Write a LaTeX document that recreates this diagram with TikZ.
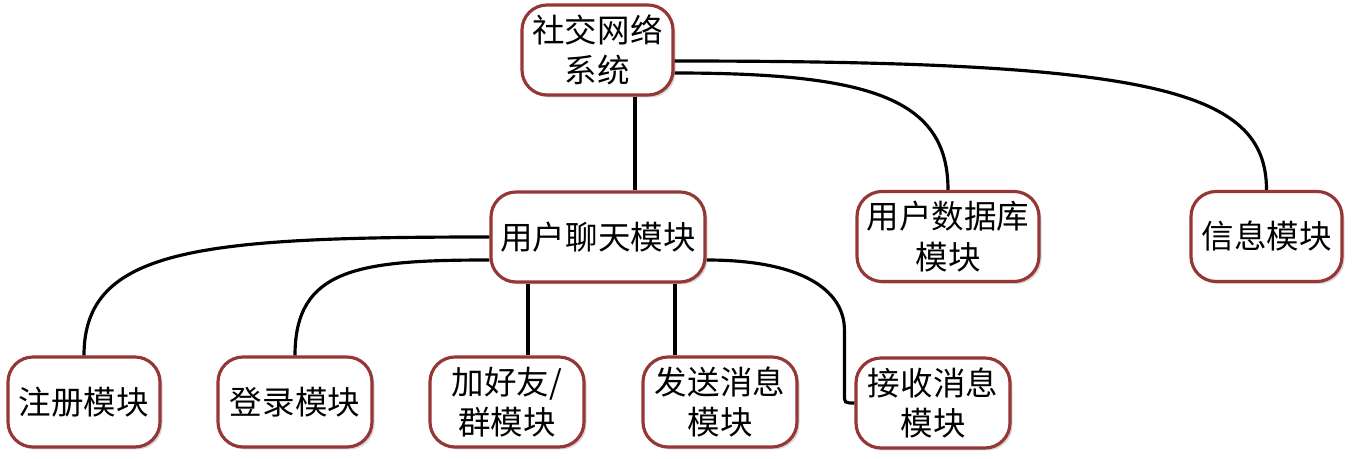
\documentclass[tikz,border=0pt]{standalone}
\usepackage{fontspec}
\usepackage{tikz}
\usetikzlibrary{calc,shadows}
\newfontfamily\cjk{Noto Sans CJK SC}
\definecolor{edge}{HTML}{953735}
\definecolor{ink}{HTML}{000000}
\tikzset{
  mod/.style={draw=edge, fill=white, line width=1.8pt, rounded corners=0.5cm,
    minimum height=1.8cm, align=center, inner sep=2pt,
    font=\cjk\fontsize{18.5}{23}\selectfont,
    drop shadow={opacity=0.3, shadow xshift=0.05cm, shadow yshift=-0.05cm}},
  link/.style={draw=ink, line width=1.8pt}
}

\begin{document}
\begin{tikzpicture}
  \useasboundingbox (0,0) rectangle (27.1,9.18);

  \coordinate (T) at (11.95,8.18);
  \coordinate (C) at (11.96,4.44);

  % boxes
  \node[mod, minimum width=3.02cm] (top) at (T) {社交网络\\系统};
  \node[mod, minimum width=4.28cm] (chat) at (C) {用户聊天模块};
  \node[mod, minimum width=3.64cm] (db) at (18.96,4.45) {用户数据库\\模块};
  \node[mod, minimum width=3.02cm] (info) at (25.33,4.45) {信息模块};

  \node[mod, minimum width=3.04cm] (reg) at (1.68,1.14) {注册模块};
  \node[mod, minimum width=3.08cm] (login) at (5.9,1.14) {登录模块};
  \node[mod, minimum width=3.08cm] (add) at (10.14,1.14) {加好友/\\群模块};
  \node[mod, minimum width=3.08cm] (send) at (14.4,1.14) {发送消息\\模块};
  \node[mod, minimum width=3.08cm] (recv) at (18.66,1.12) {接收消息\\模块};

  % links
  \draw[link] ([xshift=0.75cm]top.south) -- ([xshift=0.75cm]top.south |- chat.north);
  \draw[link] ([yshift=-0.46cm]top.east) .. controls +(3.94,0) and +(0,1.82) .. (db.north);
  \draw[link] ([yshift=-0.22cm]top.east) .. controls +(9.54,0) and +(0,2.02) .. (info.north);

  \draw[link] (chat.west) .. controls +(-5.82,0) and +(0,2.14) .. (reg.north);
  \draw[link] ([yshift=-0.46cm]chat.west) .. controls +(-2.62,0) and +(0,1.74) .. (login.north);
  \draw[link] ([xshift=0.42cm]add.north) -- ([xshift=0.42cm]add.north |- chat.south);
  \draw[link] ([xshift=-0.9cm]send.north) -- ([xshift=-0.9cm]send.north |- chat.south);
  \draw[link] ([yshift=-0.46cm]chat.east) .. controls +(1.9,0) and +(0,0.8) .. ([shift={(-0.2,1.46)}]recv.west)
    -- ([shift={(-0.2,0.18)}]recv.west) .. controls +(0,-0.18) .. (recv.west);
\end{tikzpicture}
\end{document}
